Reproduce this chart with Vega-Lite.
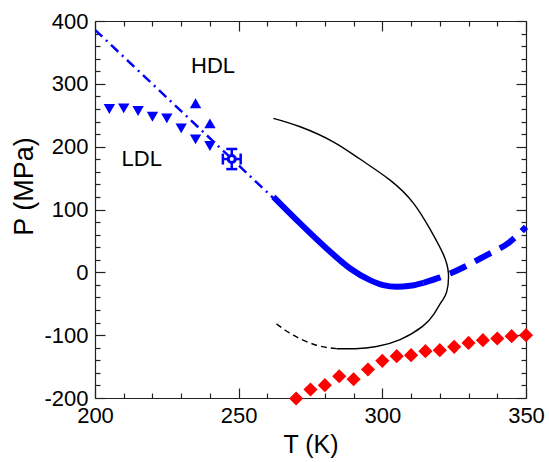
{
  "$schema": "https://vega.github.io/schema/vega-lite/v6.json",
  "width": 431,
  "height": 377,
  "autosize": {"type": "none"},
  "padding": {"left": 95, "top": 21, "right": 23, "bottom": 64},
  "background": "white",
  "config": {
    "font": "Liberation Sans",
    "view": {"stroke": null},
    "axis": {"grid": false, "domainColor": "#222", "tickColor": "#222", "domainWidth": 1.2, "tickWidth": 1.2, "labelColor": "#000", "titleColor": "#000", "labelFont": "Liberation Sans", "titleFont": "Liberation Sans", "titleFontWeight": "normal", "labelOverlap": false, "labelFlush": false, "labelBound": false}
  },
  "datasets": {
    "dashdot": [{"T": 200, "P": 386}, {"T": 262.1, "P": 118}],
    "thick": [
      {"T": 262.1, "P": 120.2}, {"T": 271.4, "P": 77.9}, {"T": 280.6, "P": 38.1}, {"T": 288.8, "P": 6.2},
      {"T": 295.7, "P": -12.4}, {"T": 300.3, "P": -20.4}, {"T": 305.0, "P": -23}, {"T": 309.6, "P": -21.5}, {"T": 314.3, "P": -16.7}
    ],
    "thickdash": [
      {"T": 314.3, "P": -16.7}, {"T": 320.1, "P": -8}, {"T": 323.6, "P": -1.8}, {"T": 335.2, "P": 24.7}, {"T": 344.4, "P": 48.6}, {"T": 350, "P": 72.5}
    ],
    "loop": [
      {"i": 1, "T": 262.1, "P": 245.1}, {"i": 2, "T": 271.4, "P": 231.7}, {"i": 3, "T": 282.9, "P": 207.8}, {"i": 4, "T": 292.2, "P": 180.3},
      {"i": 5, "T": 302.7, "P": 146.8}, {"i": 6, "T": 310.8, "P": 110.2}, {"i": 7, "T": 316.6, "P": 68.8}, {"i": 8, "T": 321.2, "P": 29},
      {"i": 9, "T": 323.0, "P": -1.8}, {"i": 10, "T": 322.4, "P": -31}, {"i": 11, "T": 320.7, "P": -46}, {"i": 12, "T": 318.0, "P": -66},
      {"i": 13, "T": 314.0, "P": -86}, {"i": 14, "T": 306.2, "P": -107}, {"i": 15, "T": 298.0, "P": -118}, {"i": 16, "T": 290.5, "P": -121.5},
      {"i": 17, "T": 284.1, "P": -121.5}
    ],
    "loopdash": [
      {"i": 1, "T": 284.1, "P": -121.5}, {"i": 2, "T": 277.1, "P": -116}, {"i": 3, "T": 269.0, "P": -100}, {"i": 4, "T": 262.7, "P": -80.4}
    ],
    "ldl": [
      {"T": 205, "P": 260}, {"T": 210, "P": 261}, {"T": 215, "P": 256.7}, {"T": 220, "P": 247.6},
      {"T": 225, "P": 245}, {"T": 230, "P": 229.1}, {"T": 235, "P": 211.6}, {"T": 240, "P": 201}
    ],
    "hdl": [{"T": 235, "P": 269}, {"T": 240, "P": 237}],
    "cp": [{"T": 247.6, "P": 180.3, "Tlo": 244.5, "Thi": 250.7, "Plo": 164.3, "Phi": 196.3}],
    "red": [
      {"T": 270, "P": -200.8}, {"T": 275, "P": -186.5}, {"T": 280, "P": -179.6}, {"T": 285, "P": -165.3}, {"T": 290, "P": -170.1},
      {"T": 295, "P": -154.6}, {"T": 300, "P": -140.9}, {"T": 305, "P": -133.4}, {"T": 310, "P": -131.8}, {"T": 315, "P": -125.5},
      {"T": 320, "P": -123.9}, {"T": 325, "P": -118.6}, {"T": 330, "P": -112.3}, {"T": 335, "P": -108}, {"T": 340, "P": -105.3},
      {"T": 345, "P": -101.6}, {"T": 350, "P": -100}
    ],
    "labels": [{"label": "HDL", "T": 241.1, "P": 316.7}, {"label": "LDL", "T": 216.25, "P": 169.1}]
  },
  "resolve": {"axis": {"x": "independent", "y": "independent"}},
  "layer": [
    {
      "layer": [
        {
          "data": {"name": "dashdot"},
          "mark": {"type": "line", "color": "#0000ff", "strokeWidth": 2.5, "strokeDash": [10, 5, 2, 5], "clip": true},
          "encoding": {
            "x": {"field": "T", "type": "quantitative", "scale": {"domain": [200, 350], "nice": false, "zero": false},
              "axis": {"orient": "bottom", "title": "T (K)", "values": [200, 250, 300, 350], "labelExpr": "'' + datum.value",
                "tickSize": -10, "labelFontSize": 22, "labelPadding": 17, "titleFontSize": 25, "titlePadding": 6}},
            "y": {"field": "P", "type": "quantitative", "scale": {"domain": [-200, 400], "nice": false, "zero": false},
              "axis": {"orient": "left", "title": "P (MPa)", "values": [-200, -100, 0, 100, 200, 300, 400], "labelExpr": "'' + datum.value",
                "tickSize": -10, "labelFontSize": 22, "labelPadding": 17, "titleFontSize": 27, "titleX": -71, "titleY": 165, "titleBaseline": "middle", "titleAlign": "center"}}
          }
        },
        {
          "data": {"name": "thick"},
          "mark": {"type": "line", "color": "#0000ff", "strokeWidth": 6, "interpolate": "monotone"},
          "encoding": {"x": {"field": "T", "type": "quantitative"}, "y": {"field": "P", "type": "quantitative"}}
        },
        {
          "data": {"name": "thickdash"},
          "mark": {"type": "line", "color": "#0000ff", "strokeWidth": 6, "strokeDash": [18, 10], "interpolate": "monotone"},
          "encoding": {"x": {"field": "T", "type": "quantitative"}, "y": {"field": "P", "type": "quantitative"}}
        },
        {
          "data": {"name": "loop"},
          "mark": {"type": "line", "color": "#000000", "strokeWidth": 1.4, "interpolate": "natural"},
          "encoding": {"x": {"field": "T", "type": "quantitative"}, "y": {"field": "P", "type": "quantitative"}, "order": {"field": "i", "type": "quantitative"}}
        },
        {
          "data": {"name": "loopdash"},
          "mark": {"type": "line", "color": "#000000", "strokeWidth": 1.4, "strokeDash": [6, 4], "interpolate": "natural"},
          "encoding": {"x": {"field": "T", "type": "quantitative"}, "y": {"field": "P", "type": "quantitative"}, "order": {"field": "i", "type": "quantitative"}}
        },
        {
          "data": {"name": "ldl"},
          "mark": {"type": "point", "shape": "triangle-down", "filled": true, "color": "#0000ff", "size": 130, "opacity": 1},
          "encoding": {"x": {"field": "T", "type": "quantitative"}, "y": {"field": "P", "type": "quantitative"}}
        },
        {
          "data": {"name": "hdl"},
          "mark": {"type": "point", "shape": "triangle-up", "filled": true, "color": "#0000ff", "size": 130, "opacity": 1},
          "encoding": {"x": {"field": "T", "type": "quantitative"}, "y": {"field": "P", "type": "quantitative"}}
        },
        {
          "data": {"name": "cp"},
          "mark": {"type": "rule", "color": "#0000ff", "strokeWidth": 2.5},
          "encoding": {"x": {"field": "T", "type": "quantitative"}, "y": {"field": "Plo", "type": "quantitative"}, "y2": {"field": "Phi"}}
        },
        {
          "data": {"name": "cp"},
          "mark": {"type": "rule", "color": "#0000ff", "strokeWidth": 2.5},
          "encoding": {"y": {"field": "P", "type": "quantitative"}, "x": {"field": "Tlo", "type": "quantitative"}, "x2": {"field": "Thi"}}
        },
        {
          "data": {"name": "cp"},
          "mark": {"type": "tick", "color": "#0000ff", "orient": "horizontal", "size": 11, "thickness": 2.5, "opacity": 1},
          "encoding": {"x": {"field": "T", "type": "quantitative"}, "y": {"field": "Plo", "type": "quantitative"}}
        },
        {
          "data": {"name": "cp"},
          "mark": {"type": "tick", "color": "#0000ff", "orient": "horizontal", "size": 11, "thickness": 2.5, "opacity": 1},
          "encoding": {"x": {"field": "T", "type": "quantitative"}, "y": {"field": "Phi", "type": "quantitative"}}
        },
        {
          "data": {"name": "cp"},
          "mark": {"type": "tick", "color": "#0000ff", "orient": "vertical", "size": 11, "thickness": 2.5, "opacity": 1},
          "encoding": {"x": {"field": "Tlo", "type": "quantitative"}, "y": {"field": "P", "type": "quantitative"}}
        },
        {
          "data": {"name": "cp"},
          "mark": {"type": "tick", "color": "#0000ff", "orient": "vertical", "size": 11, "thickness": 2.5, "opacity": 1},
          "encoding": {"x": {"field": "Thi", "type": "quantitative"}, "y": {"field": "P", "type": "quantitative"}}
        },
        {
          "data": {"name": "cp"},
          "mark": {"type": "point", "shape": "circle", "filled": false, "fill": "#ffffff", "fillOpacity": 1, "stroke": "#0000ff", "strokeWidth": 3, "size": 50, "opacity": 1},
          "encoding": {"x": {"field": "T", "type": "quantitative"}, "y": {"field": "P", "type": "quantitative"}}
        },
        {
          "data": {"name": "red"},
          "mark": {"type": "point", "shape": "diamond", "filled": true, "color": "#ff0000", "size": 200, "opacity": 1},
          "encoding": {"x": {"field": "T", "type": "quantitative"}, "y": {"field": "P", "type": "quantitative"}}
        },
        {
          "data": {"name": "labels"},
          "mark": {"type": "text", "fontSize": 22, "font": "Liberation Sans", "align": "center", "baseline": "alphabetic", "color": "#000"},
          "encoding": {"x": {"field": "T", "type": "quantitative"}, "y": {"field": "P", "type": "quantitative"}, "text": {"field": "label"}}
        }
      ]
    },
    {
      "data": {"name": "red"},
      "mark": {"type": "point", "opacity": 0},
      "encoding": {
        "x": {"field": "T", "type": "quantitative",
          "axis": {"orient": "bottom", "title": null, "labels": false, "domain": false, "tickSize": -5,
            "values": [210, 220, 230, 240, 260, 270, 280, 290, 310, 320, 330, 340]}},
        "y": {"field": "P", "type": "quantitative",
          "axis": {"orient": "left", "title": null, "labels": false, "domain": false, "tickSize": -5,
            "values": [-180, -160, -140, -120, -80, -60, -40, -20, 20, 40, 60, 80, 120, 140, 160, 180, 220, 240, 260, 280, 320, 340, 360, 380]}}
      }
    },
    {
      "data": {"name": "red"},
      "mark": {"type": "point", "opacity": 0},
      "encoding": {
        "x": {"field": "T", "type": "quantitative",
          "axis": {"orient": "top", "title": null, "labels": false, "tickSize": -10, "values": [200, 250, 300, 350]}},
        "y": {"field": "P", "type": "quantitative",
          "axis": {"orient": "right", "title": null, "labels": false, "tickSize": -10, "values": [-200, -100, 0, 100, 200, 300, 400]}}
      }
    },
    {
      "data": {"name": "red"},
      "mark": {"type": "point", "opacity": 0},
      "encoding": {
        "x": {"field": "T", "type": "quantitative",
          "axis": {"orient": "top", "title": null, "labels": false, "domain": false, "tickSize": -5,
            "values": [210, 220, 230, 240, 260, 270, 280, 290, 310, 320, 330, 340]}},
        "y": {"field": "P", "type": "quantitative",
          "axis": {"orient": "right", "title": null, "labels": false, "domain": false, "tickSize": -5,
            "values": [-180, -160, -140, -120, -80, -60, -40, -20, 20, 40, 60, 80, 120, 140, 160, 180, 220, 240, 260, 280, 320, 340, 360, 380]}}
      }
    }
  ]
}
